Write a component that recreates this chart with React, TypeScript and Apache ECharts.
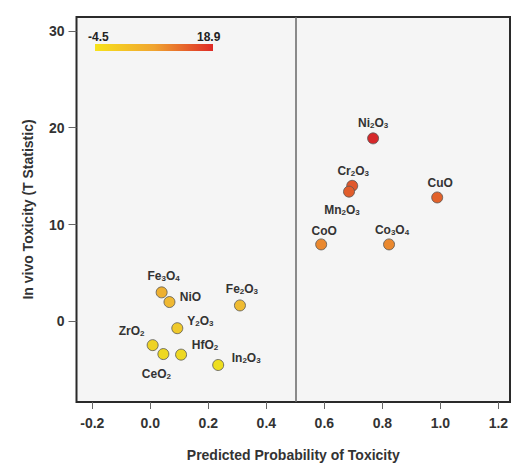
import React, { useEffect, useRef } from "react";
import * as echarts from "echarts";

const names = ["Fe{s|3}O{s|4}", "NiO", "Fe{s|2}O{s|3}", "Y{s|2}O{s|3}", "ZrO{s|2}", "CeO{s|2}", "HfO{s|2}", "In{s|2}O{s|3}", "Ni{s|2}O{s|3}", "Cr{s|2}O{s|3}", "Mn{s|2}O{s|3}", "CuO", "CoO", "Co{s|3}O{s|4}"];
const probability = [0.039, 0.066, 0.309, 0.093, 0.008, 0.045, 0.106, 0.234, 0.768, 0.696, 0.685, 0.989, 0.589, 0.823];
const toxicity = [3.0, 2.0, 1.65, -0.7, -2.45, -3.37, -3.43, -4.5, 18.9, 14.0, 13.4, 12.8, 7.95, 7.95];
const xTicks = [-0.2, 0, 0.2, 0.4, 0.6, 0.8, 1.0, 1.2];
const yTicks = [0, 10, 20, 30];
const colorMin = -4.5;
const colorMax = 18.9;
const threshold = 0.5;

// label offsets (px) relative to each point
const labelOffsets: number[][] = [
  [2, -16], [21, -5], [2, -16], [23, -7], [-21, -14], [-7, 20], [24, -10],
  [28, -7], [0, -15], [1, -15], [-7, 18], [3, -14], [3, -13], [3, -14],
];

const FONT = "'Liberation Sans', Arial, sans-serif";
const rampColors = ["#eede1e", "#efbd32", "#eb8e2e", "#e2602b", "#d6282a"];

export default function App() {
  const ref = useRef<HTMLDivElement>(null);
  useEffect(() => {
    if (!ref.current) return;
    const chart = echarts.init(ref.current, null, { renderer: "svg" });
    const data = probability.map((p, i) => ({
      value: [p, toxicity[i]],
      name: names[i],
      label: { offset: labelOffsets[i] },
    }));
    chart.setOption({
      animation: false,
      backgroundColor: "#ffffff",
      grid: {
        left: 76.5, right: 2, top: 17, bottom: 62,
        show: true, backgroundColor: "#f5f5f5", borderColor: "#2a2a2a", borderWidth: 2,
      },
      xAxis: {
        type: "value", min: -0.2545, max: 1.24,
        name: "Predicted Probability of Toxicity",
        nameLocation: "middle", nameGap: 46,
        nameTextStyle: { fontFamily: FONT, fontWeight: "bold", fontSize: 14, color: "#333" },
        splitLine: { show: false },
        axisLine: { show: false, onZero: false },
        axisTick: { show: true, customValues: xTicks, length: 7, lineStyle: { color: "#666", width: 1 } },
        axisLabel: {
          customValues: xTicks, margin: 14,
          formatter: (v: number) => v.toFixed(1),
          fontFamily: FONT, fontWeight: "bold", fontSize: 14, color: "#333",
        },
      },
      yAxis: {
        type: "value", min: -8.32, max: 31.43,
        name: "In vivo Toxicity (T Statistic)",
        nameLocation: "middle", nameGap: 42,
        nameTextStyle: { fontFamily: FONT, fontWeight: "bold", fontSize: 14, color: "#333" },
        splitLine: { show: false },
        axisLine: { show: false, onZero: false },
        axisTick: { show: true, customValues: yTicks, length: 8, lineStyle: { color: "#666", width: 1 } },
        axisLabel: {
          customValues: yTicks, margin: 12,
          fontFamily: FONT, fontWeight: "bold", fontSize: 14, color: "#333",
        },
      },
      visualMap: {
        show: false, type: "continuous", dimension: 1,
        min: colorMin, max: colorMax,
        inRange: { color: rampColors },
        seriesIndex: 0,
      },
      series: [
        {
          type: "scatter",
          data,
          symbolSize: 11,
          itemStyle: { borderColor: "#555", borderWidth: 0.8, opacity: 1 },
          label: {
            show: true, position: "inside",
            formatter: (p: any) => p.name,
            fontFamily: FONT, fontWeight: "bold", fontSize: 12, color: "#333",
            rich: {
              s: { fontFamily: FONT, fontWeight: "bold", fontSize: 8, color: "#333", padding: [5, 0, 0, 0] },
            },
          },
          markLine: {
            silent: true, symbol: "none", label: { show: false },
            lineStyle: { color: "#666", width: 1.5, type: "solid" },
            data: [{ xAxis: threshold }],
          },
          z: 3,
        },
      ],
      graphic: [
        {
          type: "rect", left: 95, top: 44,
          shape: { width: 118, height: 7 },
          style: {
            fill: new echarts.graphic.LinearGradient(0, 0, 1, 0, [
              { offset: 0, color: "#f7e21b" },
              { offset: 0.5, color: "#f0a430" },
              { offset: 1, color: "#de2a26" },
            ]),
          },
        },
        {
          type: "text", left: 88, top: 31,
          style: { text: String(colorMin), font: `bold 12px ${FONT}`, fill: "#222" },
        },
        {
          type: "text", left: 197, top: 31,
          style: { text: String(colorMax), font: `bold 12px ${FONT}`, fill: "#222" },
        },
      ],
    });
    return () => chart.dispose();
  }, []);
  return <div ref={ref} style={{ width: 512, height: 467, position: "absolute", left: 0, top: 0 }} />;
}
